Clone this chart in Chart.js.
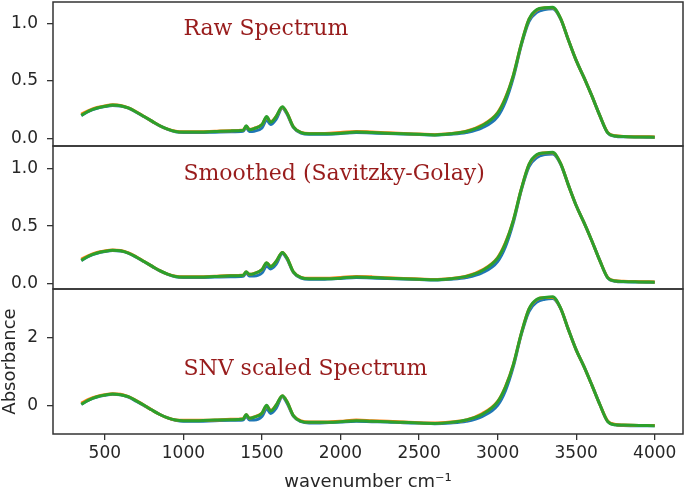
<!DOCTYPE html>
<html lang="en">

<head>
    <meta charset="UTF-8">
    <title>Spectra</title>
    <script src="https://cdn.jsdelivr.net/npm/chart.js@4.4.0/dist/chart.umd.min.js"></script>
    <style>
        body { margin: 0; background: #fff; }
        .panel { position: absolute; left: 0; }
    </style>
</head>

<body>

    <canvas id="raw" class="panel" width="685" height="149" style="top:0px"></canvas>
    <canvas id="smooth" class="panel" width="685" height="149" style="top:143px"></canvas>
    <canvas id="snv" class="panel" width="685" height="207" style="top:286px"></canvas>

<script>
    // wavenumber grid (cm-1) shared by all curves
    const wavenumber = [
        350, 400, 450, 500, 550, 600, 650, 700, 750, 800, 850, 900, 950, 1000,
        1100, 1200, 1300,
        1380, 1400, 1420, 1450, 1500, 1530, 1555, 1590, 1630, 1660, 1700, 1750, 1800,
        1900, 2000, 2100, 2200, 2300, 2400, 2500, 2600, 2700, 2800, 2900,
        3000, 3050, 3100, 3150, 3200, 3250, 3300, 3350, 3400, 3450, 3500, 3550, 3600, 3650, 3700, 3750, 3800,
        3900, 4000
    ];

    // raw spectrum, three samples
    const rawBlue = [
        0.20, 0.238, 0.262, 0.277, 0.287, 0.283, 0.263, 0.228, 0.188, 0.148, 0.108, 0.078, 0.057, 0.05,
        0.05, 0.054, 0.058,
        0.062, 0.095, 0.06, 0.062, 0.09, 0.16, 0.12, 0.165, 0.265, 0.21, 0.095, 0.045, 0.035,
        0.036, 0.042, 0.05, 0.046, 0.042, 0.037, 0.033, 0.028, 0.035, 0.05, 0.09,
        0.19, 0.32, 0.53, 0.81, 1.02, 1.10, 1.125, 1.13, 1.045, 0.86, 0.68, 0.53, 0.37, 0.20, 0.05, 0.018, 0.013,
        0.011, 0.009
    ];
    const rawOrange = [
        0.21, 0.245, 0.27, 0.283, 0.292, 0.287, 0.266, 0.232, 0.19, 0.15, 0.11, 0.08, 0.062, 0.057,
        0.057, 0.062, 0.067,
        0.072, 0.105, 0.077, 0.087, 0.12, 0.185, 0.145, 0.19, 0.272, 0.22, 0.10, 0.052, 0.043,
        0.043, 0.05, 0.06, 0.056, 0.048, 0.042, 0.037, 0.032, 0.042, 0.062, 0.115,
        0.225, 0.355, 0.55, 0.82, 1.04, 1.12, 1.14, 1.14, 1.05, 0.86, 0.68, 0.53, 0.37, 0.20, 0.052, 0.022, 0.017,
        0.014, 0.012
    ];
    const rawGreen = [
        0.20, 0.24, 0.265, 0.28, 0.29, 0.285, 0.265, 0.23, 0.19, 0.15, 0.11, 0.08, 0.06, 0.055,
        0.055, 0.06, 0.065,
        0.07, 0.11, 0.075, 0.085, 0.12, 0.19, 0.14, 0.19, 0.275, 0.22, 0.10, 0.05, 0.04,
        0.04, 0.045, 0.055, 0.05, 0.045, 0.04, 0.035, 0.03, 0.04, 0.06, 0.11,
        0.22, 0.35, 0.55, 0.82, 1.04, 1.125, 1.14, 1.145, 1.05, 0.86, 0.68, 0.53, 0.37, 0.20, 0.05, 0.02, 0.015,
        0.012, 0.01
    ];

    // Savitzky-Golay smoothed
    const smoothBlue = [
        0.20, 0.238, 0.262, 0.277, 0.286, 0.282, 0.263, 0.228, 0.188, 0.148, 0.108, 0.078, 0.057, 0.05,
        0.05, 0.054, 0.058,
        0.062, 0.09, 0.063, 0.063, 0.09, 0.15, 0.125, 0.165, 0.26, 0.21, 0.095, 0.045, 0.035,
        0.036, 0.042, 0.05, 0.046, 0.042, 0.037, 0.033, 0.028, 0.035, 0.05, 0.09,
        0.19, 0.32, 0.53, 0.81, 1.02, 1.10, 1.125, 1.13, 1.045, 0.86, 0.68, 0.53, 0.37, 0.20, 0.05, 0.018, 0.013,
        0.011, 0.009
    ];
    const smoothOrange = [
        0.21, 0.245, 0.27, 0.283, 0.29, 0.286, 0.266, 0.232, 0.19, 0.15, 0.11, 0.08, 0.062, 0.057,
        0.057, 0.062, 0.067,
        0.072, 0.098, 0.079, 0.087, 0.12, 0.178, 0.148, 0.19, 0.268, 0.22, 0.10, 0.052, 0.043,
        0.043, 0.05, 0.06, 0.056, 0.048, 0.042, 0.037, 0.032, 0.042, 0.062, 0.115,
        0.225, 0.355, 0.55, 0.82, 1.04, 1.12, 1.14, 1.14, 1.05, 0.86, 0.68, 0.53, 0.37, 0.20, 0.052, 0.022, 0.017,
        0.014, 0.012
    ];
    const smoothGreen = [
        0.20, 0.24, 0.265, 0.28, 0.288, 0.284, 0.264, 0.23, 0.19, 0.15, 0.11, 0.08, 0.06, 0.055,
        0.055, 0.06, 0.065,
        0.07, 0.10, 0.078, 0.085, 0.12, 0.18, 0.145, 0.19, 0.27, 0.22, 0.10, 0.05, 0.04,
        0.04, 0.045, 0.055, 0.05, 0.045, 0.04, 0.035, 0.03, 0.04, 0.06, 0.11,
        0.22, 0.35, 0.55, 0.82, 1.04, 1.125, 1.14, 1.145, 1.05, 0.86, 0.68, 0.53, 0.37, 0.20, 0.05, 0.02, 0.015,
        0.012, 0.01
    ];

    // SNV scaled
    const snvBlue = [
        0.04, 0.17, 0.25, 0.30, 0.33, 0.32, 0.25, 0.13, 0.00, -0.13, -0.26, -0.36, -0.43, -0.46,
        -0.46, -0.44, -0.43,
        -0.42, -0.31, -0.42, -0.42, -0.32, -0.09, -0.23, -0.08, 0.26, 0.07, -0.31, -0.47, -0.51,
        -0.50, -0.48, -0.46, -0.47, -0.48, -0.50, -0.51, -0.53, -0.51, -0.46, -0.32,
        0.01, 0.44, 1.14, 2.07, 2.76, 3.03, 3.11, 3.13, 2.85, 2.23, 1.63, 1.14, 0.60, 0.04, -0.46, -0.56, -0.58,
        -0.59, -0.59
    ];
    const snvOrange = [
        0.07, 0.19, 0.27, 0.32, 0.35, 0.33, 0.26, 0.15, 0.01, -0.13, -0.26, -0.36, -0.42, -0.43,
        -0.43, -0.42, -0.40,
        -0.38, -0.27, -0.37, -0.33, -0.22, -0.01, -0.14, 0.01, 0.28, 0.11, -0.29, -0.45, -0.48,
        -0.48, -0.46, -0.42, -0.44, -0.46, -0.48, -0.50, -0.51, -0.48, -0.42, -0.24,
        0.12, 0.56, 1.20, 2.10, 2.83, 3.10, 3.16, 3.16, 2.86, 2.23, 1.63, 1.14, 0.60, 0.04, -0.45, -0.55, -0.57,
        -0.58, -0.58
    ];
    const snvGreen = [
        0.04, 0.17, 0.26, 0.31, 0.34, 0.32, 0.26, 0.14, 0.01, -0.13, -0.26, -0.36, -0.42, -0.44,
        -0.44, -0.42, -0.41,
        -0.39, -0.26, -0.37, -0.34, -0.22, 0.01, -0.16, 0.01, 0.29, 0.11, -0.29, -0.46, -0.49,
        -0.49, -0.47, -0.44, -0.46, -0.47, -0.49, -0.51, -0.52, -0.49, -0.42, -0.26,
        0.11, 0.54, 1.20, 2.10, 2.83, 3.11, 3.16, 3.18, 2.86, 2.23, 1.63, 1.14, 0.60, 0.04, -0.46, -0.56, -0.57,
        -0.58, -0.59
    ];

    const panelTitles = ['Raw Spectrum', 'Smoothed (Savitzky-Golay)', 'SNV scaled Spectrum'];

    const xTicks = [500, 1000, 1500, 2000, 2500, 3000, 3500, 4000];
    const xTickLabels = ['500', '1000', '1500', '2000', '2500', '3000', '3500', '4000'];
    const yTicksSmall = [0, 0.5, 1.0];
    const yTickLabelsSmall = ['0.0', '0.5', '1.0'];
    const yTicksSnv = [0, 2];
    const yTickLabelsSnv = ['0', '2'];

    Chart.defaults.font.family = '"DejaVu Sans"';
    Chart.defaults.font.size = 17;
    Chart.defaults.color = '#262626';

    // frame round each panel and the red title inside it
    const panelDeco = {
        id: 'panelDeco',
        afterDatasetsDraw(chart, args, opts) {
            const ctx = chart.ctx, a = chart.chartArea;
            ctx.save();
            ctx.strokeStyle = '#333';
            ctx.lineWidth = 1.5;
            ctx.strokeRect(a.left, a.top, a.right - a.left, a.bottom - a.top);
            ctx.font = '22px "DejaVu Serif"';
            ctx.fillStyle = '#981c1c';
            ctx.textBaseline = 'alphabetic';
            ctx.textAlign = 'left';
            ctx.fillText(opts.text, chart.scales.x.getPixelForValue(opts.tx), chart.scales.y.getPixelForValue(opts.ty));
            ctx.restore();
        }
    };

    function series(ys, color, order) {
        return {
            data: wavenumber.map((w, i) => ({ x: w, y: ys[i] })),
            borderColor: color,
            borderWidth: 3,
            pointRadius: 0,
            fill: false,
            cubicInterpolationMode: 'monotone',
            order: order
        };
    }

    function makePanel(id, blue, orange, green, title, yMin, yMax, yTicks, yLabels, pad, bottomAxis) {
        new Chart(document.getElementById(id), {
            type: 'line',
            data: {
                datasets: [
                    series(blue, '#1f77b4', 3),
                    series(orange, '#ff7f0e', 2),
                    series(green, '#2ca02c', 1)
                ]
            },
            plugins: [panelDeco],
            options: {
                responsive: false,
                animation: false,
                devicePixelRatio: 1,
                layout: { padding: pad },
                plugins: {
                    legend: { display: false },
                    tooltip: { enabled: false },
                    panelDeco: { text: title, tx: 1000, ty: 0.9 }
                },
                scales: {
                    x: {
                        type: 'linear',
                        min: 170,
                        max: 4180,
                        display: bottomAxis,
                        afterBuildTicks: s => { s.ticks = xTicks.map(v => ({ value: v })); },
                        afterFit: s => { s.height = bottomAxis ? 59 : 0; s.paddingLeft = 0; s.paddingRight = 0; },
                        border: { display: false },
                        grid: { drawOnChartArea: false, tickLength: 6, color: '#333', lineWidth: 1.3 },
                        ticks: { padding: 3, maxRotation: 0, callback: (v, i) => xTickLabels[i] },
                        title: { display: true, text: 'wavenumber cm⁻¹', font: { size: 18 }, padding: { top: 0, bottom: 0 } }
                    },
                    y: {
                        min: yMin,
                        max: yMax,
                        afterBuildTicks: s => { s.ticks = yTicks.map(v => ({ value: v })); },
                        afterFit: s => { s.width = 53; s.paddingTop = 0; s.paddingBottom = 0; },
                        border: { display: false },
                        grid: { drawOnChartArea: false, tickLength: 6, color: '#333', lineWidth: 1.3 },
                        ticks: { padding: 9, callback: (v, i) => yLabels[i] },
                        title: { display: bottomAxis, text: 'Absorbance', font: { size: 18 }, padding: { top: 0, bottom: 0 } }
                    }
                }
            }
        });
    }

    makePanel('raw', rawBlue, rawOrange, rawGreen, panelTitles[0], -0.067, 1.19,
        yTicksSmall, yTickLabelsSmall, { top: 2, bottom: 3, left: 0, right: 2 }, false);
    makePanel('smooth', smoothBlue, smoothOrange, smoothGreen, panelTitles[1], -0.05, 1.20,
        yTicksSmall, yTickLabelsSmall, { top: 3, bottom: 3, left: 0, right: 2 }, false);
    makePanel('snv', snvBlue, snvOrange, snvGreen, panelTitles[2], -0.83, 3.41,
        yTicksSnv, yTickLabelsSnv, { top: 3, bottom: 0, left: 0, right: 2 }, true);
</script>

</body>

</html>
